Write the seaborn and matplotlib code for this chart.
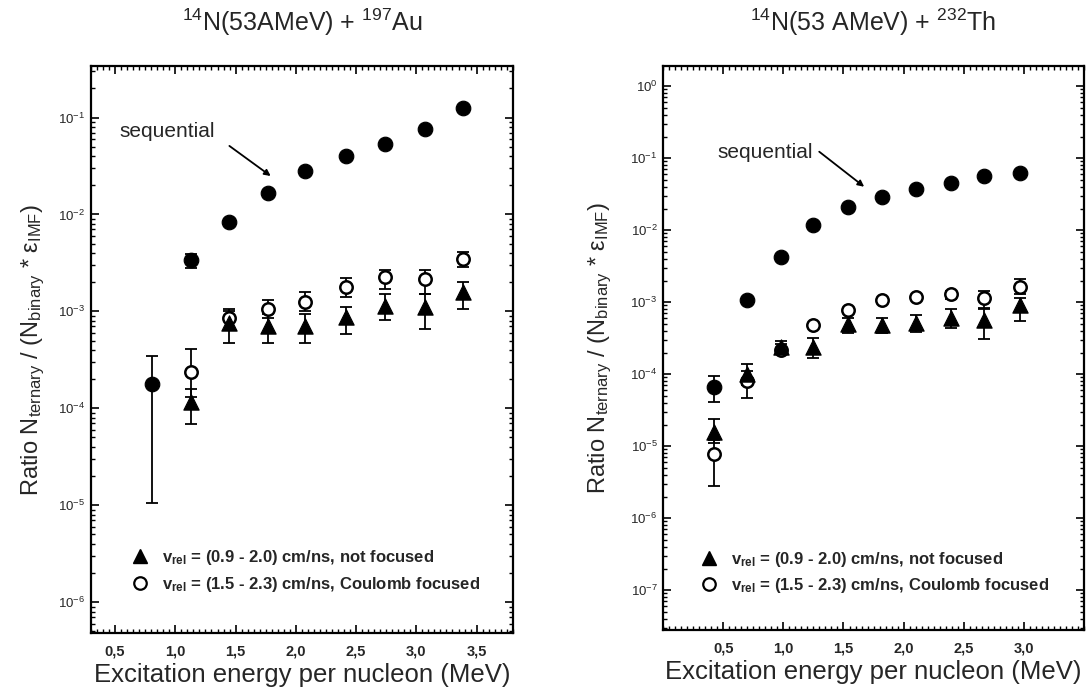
import matplotlib
matplotlib.use("Agg")
import matplotlib.pyplot as plt
import matplotlib.ticker as mticker
from matplotlib.lines import Line2D
import seaborn as sns
import numpy as np

nan = np.nan

# 14N + 197Au
au_seq_x = [0.81, 1.13, 1.445, 1.77, 2.08, 2.415, 2.74, 3.07, 3.385]
au_seq_y = [1.8e-4, 3.4e-3, 8.3e-3, 1.65e-2, 2.8e-2, 4.0e-2, 5.4e-2, 7.7e-2, 0.127]
au_seq_lo = [1.05e-5, 2.8e-3, nan, nan, nan, nan, nan, nan, nan]
au_seq_hi = [3.5e-4, 3.9e-3, nan, nan, nan, nan, nan, nan, nan]

au_x = [1.13, 1.445, 1.77, 2.08, 2.415, 2.74, 3.07, 3.385]
au_tri_y = [1.15e-4, 7.6e-4, 7.0e-4, 7.0e-4, 8.7e-4, 1.15e-3, 1.1e-3, 1.58e-3]
au_tri_lo = [6.9e-5, 4.7e-4, 4.7e-4, 4.7e-4, 5.9e-4, 8.1e-4, 6.6e-4, 1.07e-3]
au_tri_hi = [1.6e-4, 1.0e-3, 9.5e-4, 9.5e-4, 1.1e-3, 1.5e-3, 1.5e-3, 2.0e-3]
au_open_y = [2.35e-4, 8.5e-4, 1.07e-3, 1.26e-3, 1.77e-3, 2.24e-3, 2.14e-3, 3.5e-3]
au_open_lo = [1.3e-4, 6.5e-4, 8.5e-4, 1.0e-3, 1.4e-3, 1.7e-3, 1.5e-3, 2.9e-3]
au_open_hi = [4.1e-4, 1.07e-3, 1.32e-3, 1.6e-3, 2.2e-3, 2.7e-3, 2.7e-3, 4.1e-3]

# 14N + 232Th
th_seq_x = [0.425, 0.70, 0.98, 1.25, 1.535, 1.82, 2.105, 2.395, 2.67, 2.97]
th_seq_y = [6.6e-5, 1.07e-3, 4.2e-3, 1.17e-2, 2.1e-2, 2.9e-2, 3.7e-2, 4.5e-2, 5.6e-2, 6.2e-2]
th_seq_lo = [4.1e-5, nan, nan, nan, nan, nan, nan, nan, nan, nan]
th_seq_hi = [9.3e-5, nan, nan, nan, nan, nan, nan, nan, nan, nan]

th_x = [0.425, 0.70, 0.98, 1.25, 1.535, 1.82, 2.105, 2.395, 2.67, 2.97]
th_tri_y = [1.58e-5, 1.0e-4, 2.4e-4, 2.35e-4, 4.9e-4, 4.8e-4, 5.1e-4, 6.0e-4, 5.6e-4, 9.1e-4]
th_tri_lo = [1.1e-5, 7e-5, 1.9e-4, 1.7e-4, 3.7e-4, 3.7e-4, 3.9e-4, 4.4e-4, 3.1e-4, 5.5e-4]
th_tri_hi = [2.35e-5, 1.38e-4, 2.9e-4, 3.2e-4, 6.0e-4, 6.0e-4, 6.6e-4, 8.0e-4, 8.0e-4, 1.15e-3]
th_open_y = [7.9e-6, 8.0e-5, 2.2e-4, 4.8e-4, 7.7e-4, 1.07e-3, 1.17e-3, 1.29e-3, 1.14e-3, 1.62e-3]
th_open_lo = [2.8e-6, 4.7e-5, 1.9e-4, nan, nan, nan, nan, 1.12e-3, 8.3e-4, 1.3e-3]
th_open_hi = [1.2e-5, 1.1e-4, 2.6e-4, nan, nan, nan, nan, 1.45e-3, 1.45e-3, 2.1e-3]

titles = [r"$^{14}$N(53AMeV) + $^{197}$Au", r"$^{14}$N(53 AMeV) + $^{232}$Th"]
leg_labels = [r"$\mathbf{v_{rel}}$ = (0.9 - 2.0) cm/ns, not focused",
              r"$\mathbf{v_{rel}}$ = (1.5 - 2.3) cm/ns, Coulomb focused"]
xlabel = "Excitation energy per nucleon (MeV)"
ylabel = r"Ratio N$_{\mathrm{ternary}}$ / (N$_{\mathrm{binary}}$ * $\varepsilon_{\mathrm{IMF}}$)"

sns.set_style("ticks")
plt.rcParams['font.family'] = ['Liberation Sans', 'DejaVu Sans']
plt.rcParams['mathtext.fontset'] = 'custom'
plt.rcParams['mathtext.rm'] = 'Liberation Sans'
plt.rcParams['mathtext.it'] = 'Liberation Sans'
plt.rcParams['mathtext.bf'] = 'Liberation Sans:bold'


def errbars(ax, x, y, lo, hi):
    x = np.array(x); y = np.array(y); lo = np.array(lo); hi = np.array(hi)
    ok = ~np.isnan(lo)
    ax.errorbar(x[ok], y[ok], yerr=[y[ok] - lo[ok], hi[ok] - y[ok]], fmt='none',
                ecolor='black', elinewidth=1.3, capsize=4, capthick=1.3, zorder=2)


def draw_panel(ax, seq_x, seq_y, seq_lo, seq_hi, x, tri_y, tri_lo, tri_hi,
               open_y, open_lo, open_hi, xlim, ylim, xticks, title, ylab_x, leg_at):
    errbars(ax, seq_x, seq_y, seq_lo, seq_hi)
    errbars(ax, x, tri_y, tri_lo, tri_hi)
    errbars(ax, x, open_y, open_lo, open_hi)
    sns.scatterplot(x=seq_x, y=seq_y, ax=ax, marker='o', s=110, color='black',
                    edgecolor='black', zorder=3)
    sns.scatterplot(x=x, y=tri_y, ax=ax, marker='^', s=120, color='black',
                    edgecolor='black', zorder=4)
    sns.scatterplot(x=x, y=open_y, ax=ax, marker='o', s=80, facecolor='white',
                    edgecolor='black', linewidth=1.8, zorder=3)
    ax.set_yscale('log')
    ax.set_xlim(*xlim)
    ax.set_ylim(*ylim)
    ax.set_xticks(xticks)
    ax.xaxis.set_major_formatter(mticker.FuncFormatter(lambda v, p: f"{v:.1f}".replace('.', ',')))
    ax.xaxis.set_minor_locator(mticker.MultipleLocator(0.05))
    ax.yaxis.set_major_locator(mticker.LogLocator(base=10, numticks=20))
    ax.yaxis.set_minor_locator(mticker.LogLocator(base=10, subs=np.arange(2, 10), numticks=20))
    ax.yaxis.set_minor_formatter(mticker.NullFormatter())
    ax.tick_params(which='both', direction='in', top=True, right=True, color='black')
    ax.tick_params(which='major', length=6, width=1.2)
    ax.tick_params(which='minor', length=3, width=1.0)
    ax.tick_params(axis='x', labelsize=10.5, pad=8)
    ax.tick_params(axis='y', labelsize=9.5, pad=4)
    for lab in ax.get_xticklabels():
        lab.set_fontweight('bold')
    for sp in ax.spines.values():
        sp.set_linewidth(1.6)
        sp.set_color('black')
    ax.set_title(title, fontsize=18, y=1.078, pad=0, va='center')
    ax.set_xlabel(xlabel, fontsize=18.5, va='center')
    ax.xaxis.set_label_coords(0.5, -0.074)
    ax.set_ylabel(ylabel, fontsize=17, va='center')
    ax.yaxis.set_label_coords(ylab_x, 0.5)
    handles = [Line2D([], [], marker='^', color='black', linestyle='none', markersize=10),
               Line2D([], [], marker='o', color='black', markerfacecolor='white',
                      markeredgewidth=1.6, linestyle='none', markersize=9)]
    ax.legend(handles, leg_labels, loc='lower left', bbox_to_anchor=leg_at,
              frameon=False, prop={'weight': 'bold', 'size': 12},
              handletextpad=0.3, labelspacing=0.45)
    return ax


fig = plt.figure(figsize=(10.87, 6.91), dpi=100)
ax1 = fig.add_axes([0.0837, 0.0839, 0.388, 0.8205])
ax2 = fig.add_axes([0.610, 0.0883, 0.3873, 0.816])

draw_panel(ax1, au_seq_x, au_seq_y, au_seq_lo, au_seq_hi, au_x, au_tri_y, au_tri_lo,
           au_tri_hi, au_open_y, au_open_lo, au_open_hi, (0.3, 3.8), (4.8e-7, 0.34),
           [0.5, 1.0, 1.5, 2.0, 2.5, 3.0, 3.5], titles[0], -0.137, (0.041, 0.043))
draw_panel(ax2, th_seq_x, th_seq_y, th_seq_lo, th_seq_hi, th_x, th_tri_y, th_tri_lo,
           th_tri_hi, th_open_y, th_open_lo, th_open_hi, (0.0, 3.5), (2.8e-8, 1.9),
           [0.5, 1.0, 1.5, 2.0, 2.5, 3.0], titles[1], -0.150, (0.034, 0.035))

arrow = dict(arrowstyle='-|>', color='black', lw=1.3, mutation_scale=9)
ax1.annotate("sequential", xy=(0.54, 0.072), fontsize=15, va='center', ha='left')
ax1.annotate("", xy=(1.81, 0.024), xytext=(1.43, 0.053), arrowprops=arrow)
ax2.annotate("sequential", xy=(0.45, 0.12), fontsize=15, va='center', ha='left')
ax2.annotate("", xy=(1.69, 0.038), xytext=(1.28, 0.13), arrowprops=arrow)

fig.savefig("out.png", dpi=100)
